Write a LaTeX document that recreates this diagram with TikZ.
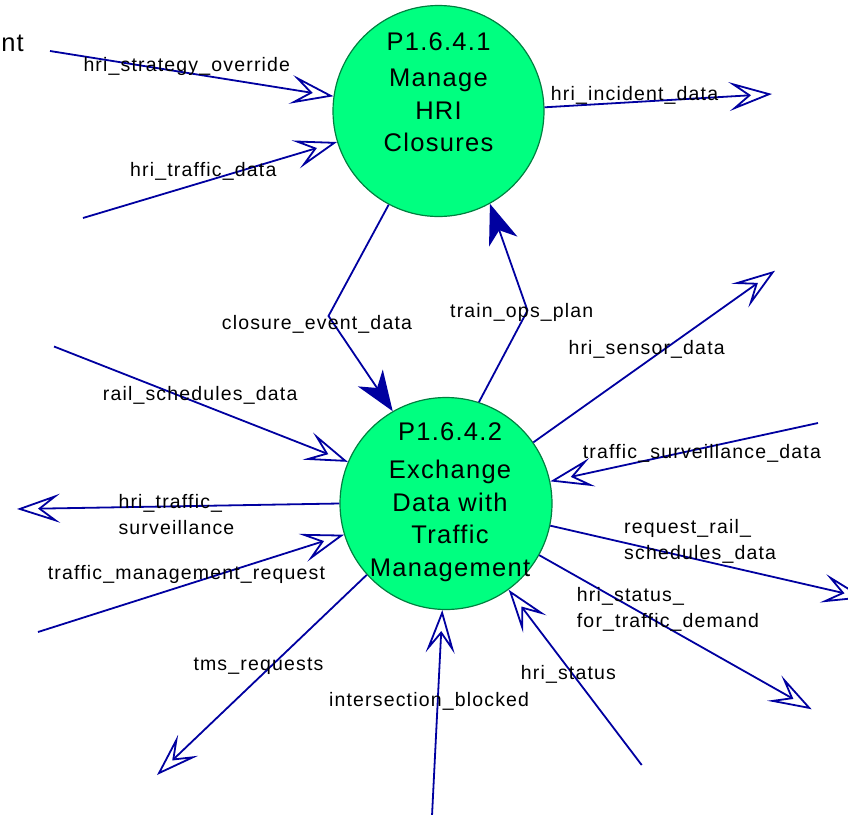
\documentclass[tikz,border=0pt]{standalone}
\usepackage{fontspec}
\usetikzlibrary{arrows.meta}
\newfontfamily\lblfont[LetterSpace=6]{Liberation Sans}
\newfontfamily\nodefont[LetterSpace=5]{Liberation Sans}
\definecolor{procfill}{RGB}{0,255,128}
\definecolor{procline}{RGB}{0,128,64}
\definecolor{flowblue}{RGB}{0,0,160}
\begin{document}
\begin{tikzpicture}[x=1pt,y=-1pt,
  proc/.style={circle, draw=procline, fill=procfill, line width=1.2pt, inner sep=0pt},
  ptext/.style={font=\nodefont\fontsize{25.5}{32.5}\selectfont, inner sep=0pt, anchor=base},
  lbl/.style={font=\lblfont\fontsize{19.5}{26}\selectfont, inner sep=0pt, anchor=base west},
  flow/.style={draw=flowblue, line width=1.8pt},
  openhead/.style={-{Stealth[length=43pt,width=29pt,inset=19pt,open]}},
  solidhead/.style={-{Stealth[length=40pt,width=30pt,inset=12pt]}},
]
\useasboundingbox (0,0) rectangle (848,814);
\clip (0,0) rectangle (848,814);

% processes
\node[proc, minimum size=211pt] (c1) at (438.5,111) {};
\node[proc, minimum size=212pt] (c2) at (446,503.5) {};
\node[ptext] (t1) at (438.5,50) {\begin{tabular}[t]{@{}c@{}}P1.6.4.1\\[4pt]Manage\\HRI\\Closures\end{tabular}};
\node[ptext] (t2) at (450,440.7) {\begin{tabular}[t]{@{}c@{}}P1.6.4.2\\[5.5pt]Exchange\\Data with\\Traffic\\Management\end{tabular}};
\node[ptext, anchor=base east] (cut) at (24,51.7) {nt};

% free ends
\coordinate (sA) at (50,51);
\coordinate (sB) at (83,218);
\coordinate (eC) at (772,94);
\coordinate (kD) at (328.5,316);
\coordinate (kE) at (527.5,310.5);
\coordinate (eF) at (775,270.7);
\coordinate (sG) at (818,423);
\coordinate (eH) at (865,598);
\coordinate (eI) at (811.7,709.3);
\coordinate (sJ) at (641.7,765);
\coordinate (sK) at (432,816);
\coordinate (eL) at (157,775);
\coordinate (sM) at (38,632);
\coordinate (eN) at (17,509);
\coordinate (sO) at (54,346.5);

% flows
\draw[flow,openhead] (sA) -- (c1.172);
\draw[flow,openhead] (sB) -- (c1.197);
\draw[flow,openhead] (c1.2) -- (eC);
\draw[flow,solidhead] (c1.242) -- (kD) -- (c2.120);
\draw[flow,solidhead] (c2.72) -- (kE) -- (c1.299);
\draw[flow,openhead] (c2.35) -- (eF);
\draw[flow,openhead] (sG) -- (c2.12);
\draw[flow,openhead] (c2.348) -- (eH);
\draw[flow,openhead] (c2.331) -- (eI);
\draw[flow,openhead] (sJ) -- (c2.306);
\draw[flow,openhead] (sK) -- (c2.268);
\draw[flow,openhead] (c2.222) -- (eL);
\draw[flow,openhead] (sM) -- (c2.197);
\draw[flow,openhead] (c2.180) -- (eN);
\draw[flow,openhead] (sO) -- (c2.157);

% labels
\node[lbl] (l1) at (83.3,71.7) {hri\_strategy\_override};
\node[lbl] (l2) at (130,176) {hri\_traffic\_data};
\node[lbl] (l3) at (550.7,100) {hri\_incident\_data};
\node[lbl] (l4) at (221.7,329.3) {closure\_event\_data};
\node[lbl] (l5) at (450,317.7) {train\_ops\_plan};
\node[lbl] (l6) at (568.3,354) {hri\_sensor\_data};
\node[lbl] (l7) at (582.7,458.3) {traffic\_surveillance\_data};
\node[lbl] (l8) at (624,533.3) {\begin{tabular}[t]{@{}l@{}}request\_rail\_\\schedules\_data\end{tabular}};
\node[lbl] (l9) at (576.7,601.7) {\begin{tabular}[t]{@{}l@{}}hri\_status\_\\for\_traffic\_demand\end{tabular}};
\node[lbl] (l10) at (520.7,679.3) {hri\_status};
\node[lbl, anchor=base east] (l11) at (529.3,706) {intersection\_blocked};
\node[lbl] (l12) at (193.3,670.7) {tms\_requests};
\node[lbl] (l13) at (47.7,579) {traffic\_management\_request};
\node[lbl] (l14) at (118.3,508.3) {\begin{tabular}[t]{@{}l@{}}hri\_traffic\_\\surveillance\end{tabular}};
\node[lbl] (l15) at (102.7,400) {rail\_schedules\_data};
\end{tikzpicture}
\end{document}
